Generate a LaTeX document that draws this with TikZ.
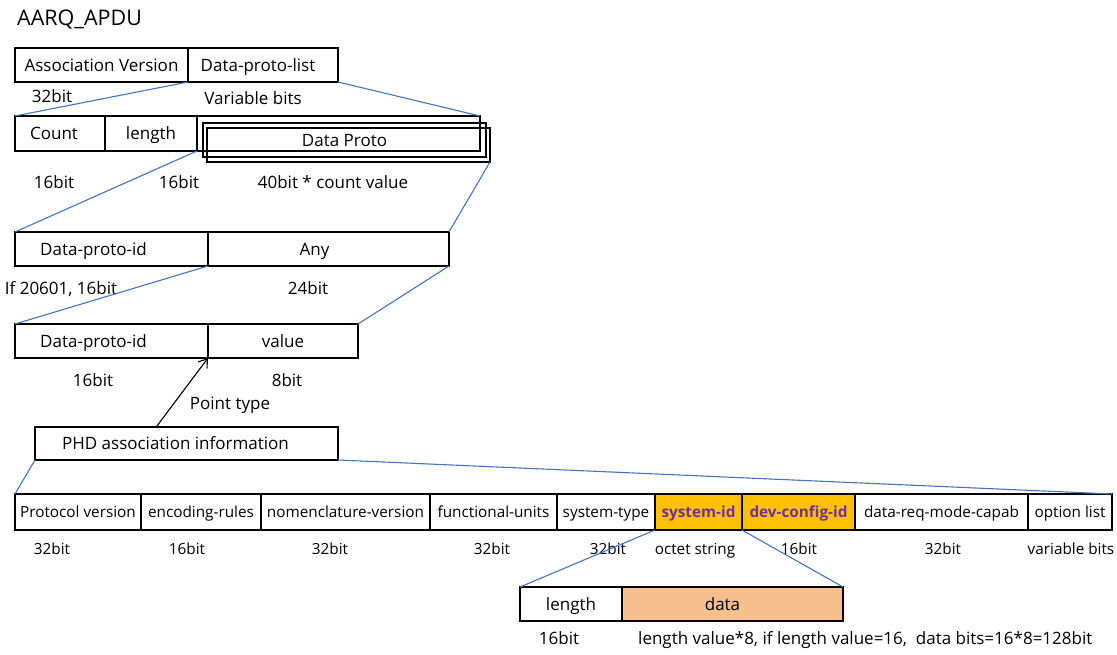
\documentclass[tikz,border=0pt]{standalone}
\usepackage{fontspec}
\setmainfont{Open Sans}
\usetikzlibrary{calc,arrows.meta}
\definecolor{linkblue}{HTML}{4472C4}
\definecolor{gold}{HTML}{FFC000}
\definecolor{idpurple}{HTML}{7030A0}
\definecolor{peach}{HTML}{F7BE8E}
\newcommand\bigfont{\fontsize{17}{20}\selectfont}
\newcommand\rowfont{\fontsize{15.3}{18}\selectfont}
\newcommand\titlefont{\fontsize{21.5}{25}\selectfont}
\begin{document}
\begin{tikzpicture}[x=1pt,y=-1pt,
  cell/.style={draw, line width=1.4pt, inner sep=0pt, outer sep=0pt, anchor=north west,
    font=\bigfont, text height=12.2pt, text depth=0pt},
  lbl/.style={font=\bigfont, inner sep=0pt, text height=12.2pt, text depth=0pt},
  rowcell/.style={cell, minimum height=36pt, font=\rowfont, text height=11pt},
  bits/.style={inner sep=0pt, font=\bigfont, text height=12.2pt, text depth=0pt},
  rowbits/.style={inner sep=0pt, font=\rowfont, text height=11pt, text depth=0pt},
  link/.style={draw=linkblue, line width=1.1pt},
  hot/.style={fill=gold, text=idpurple, font=\rowfont\bfseries}]
\useasboundingbox (0,0) rectangle (1117,654);

\node[anchor=west, inner sep=0pt, font=\titlefont] (title) at (17,20) {AARQ\_APDU};

% top level: association version and protocol list
\node[cell, minimum width=173pt, minimum height=34pt] (av) at (15,48) {Association Version};
\node[cell, minimum width=150pt, minimum height=34pt, label={[lbl,xshift=-5pt]center:Data-proto-list}] (dpl) at (188,48) {};
\node[bits] (b32) at (52,96) {32bit};
\node[bits] (bvar) at (253,98) {Variable bits};

% protocol list: count, length and stacked entries
\node[cell, minimum width=90pt, minimum height=35pt, label={[lbl,xshift=-6pt]center:Count}] (cnt) at (15,116) {};
\node[cell, minimum width=92pt, minimum height=35pt] (len) at (105,116) {length};
\node[cell, minimum width=283pt, minimum height=35pt] (dp1) at (197,116) {};
\node[cell, minimum width=283pt, minimum height=34pt] (dp2) at (203,123) {Data Proto};
\node[cell, minimum width=283pt, minimum height=34pt] (dp3) at (207,128) {};
\node[bits] (bcnt) at (54,182) {16bit};
\node[bits] (blen) at (179,182) {16bit};
\node[bits] (bdp) at (333,182) {40bit * count value};

\draw[link] (av.south east) -- (cnt.north west);
\draw[link] (dpl.south east) -- (dp1.north east);

% one data proto entry
\node[cell, minimum width=193pt, minimum height=34pt, label={[lbl,xshift=-18pt]center:Data-proto-id}] (pid) at (15,232) {};
\node[cell, minimum width=241pt, minimum height=34pt, label={[lbl,xshift=-14pt]center:Any}] (any) at (208,232) {};
\node[bits] (bpid) at (61,288) {If 20601, 16bit};
\node[bits] (bany) at (308,288) {24bit};

\draw[link] (len.south east) -- (pid.north west);
\draw[link] (dp3.south east) -- (any.north east);

% 20601 entry
\node[cell, minimum width=193pt, minimum height=34pt, label={[lbl,xshift=-18pt]center:Data-proto-id}] (pid2) at (15,324) {};
\node[cell, minimum width=150pt, minimum height=34pt] (val) at (208,324) {value};
\node[bits] (bpid2) at (93,380) {16bit};
\node[bits] (bval) at (287,380) {8bit};

\draw[link] (pid.south east) -- (pid2.north west);
\draw[link] (any.south east) -- (val.north east);

% association information
\node[cell, minimum width=303pt, minimum height=33pt, label={[lbl,xshift=-11pt]center:PHD association information}] (phd) at (35,427) {};
\node[bits] (ptype) at (230,403) {Point type};
\draw[line width=1.1pt, -{Straight Barb[length=8pt,width=11pt]}] ($(phd.north west)!0.4!(phd.north east)$) -- (val.south west);

% association information fields
\node[rowcell, minimum width=126pt] (pv) at (15,494) {Protocol version};
\node[rowcell, minimum width=120pt] (er) at (141,494) {encoding-rules};
\node[rowcell, minimum width=169pt] (nv) at (261,494) {nomenclature-version};
\node[rowcell, minimum width=127pt] (fu) at (430,494) {functional-units};
\node[rowcell, minimum width=98pt] (st) at (557,494) {system-type};
\node[rowcell, hot, minimum width=87pt] (sid) at (655,494) {system-id};
\node[rowcell, hot, minimum width=113pt] (dci) at (742,494) {dev-config-id};
\node[rowcell, minimum width=173pt] (drm) at (855,494) {data-req-mode-capab};
\node[rowcell, minimum width=84pt] (ol) at (1028,494) {option list};

\node[rowbits] (bpv) at (52,549) {32bit};
\node[rowbits] (ber) at (187,549) {16bit};
\node[rowbits] (bnv) at (330,549) {32bit};
\node[rowbits] (bfu) at (492,549) {32bit};
\node[rowbits] (bst) at (608,549) {32bit};
\node[rowbits] (bsid) at (695,549) {octet string};
\node[rowbits] (bdci) at (799,549) {16bit};
\node[rowbits] (bdrm) at (943,549) {32bit};
\node[rowbits] (bol) at (1071,549) {variable bits};

\draw[link] (phd.south west) -- (pv.north west);
\draw[link] (phd.south east) -- (ol.north east);

% octet string layout
\node[cell, minimum width=102pt, minimum height=34pt] (len2) at (520,587) {length};
\node[cell, fill=peach, minimum width=221pt, minimum height=34pt, label={[lbl,xshift=-10pt]center:data}] (data) at (622,587) {};
\node[bits] (blen2) at (559,638) {16bit};
\node[bits, anchor=west] (bdata) at (638,638) {length value*8, if length value=16,\ \ data bits=16*8=128bit};

\draw[link] (sid.south west) -- (len2.north west);
\draw[link] (sid.south east) -- (data.north east);
\end{tikzpicture}
\end{document}
